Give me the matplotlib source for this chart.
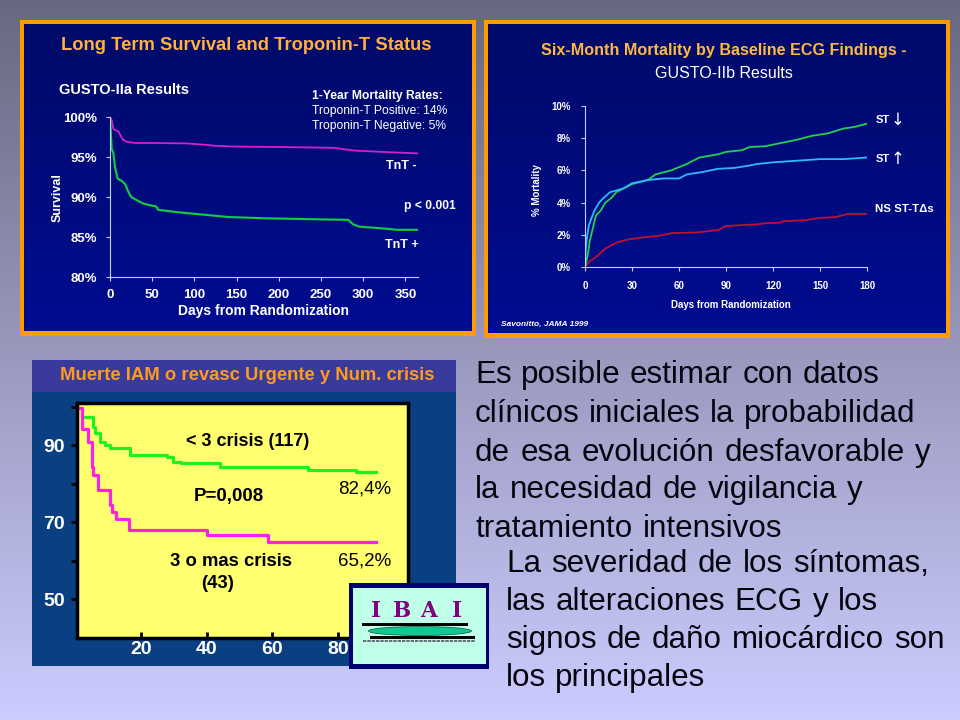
import matplotlib
matplotlib.use('Agg')
import matplotlib.pyplot as plt
from matplotlib.patches import Rectangle, Ellipse
import numpy as np

plt.rcParams['font.family'] = ['Liberation Sans', 'DejaVu Sans']

# panel 1: survival by troponin
tn_neg_x = [0, 2, 4, 10, 12, 15, 20, 30, 50, 90, 110, 125, 150, 200, 265, 275, 290, 320, 365]
tn_neg_y = [100, 99.6, 98.5, 98.2, 97.8, 97.2, 96.9, 96.75, 96.75, 96.7, 96.55, 96.4, 96.3, 96.25, 96.15, 96.0, 95.8, 95.65, 95.45]
tn_pos_x = [0, 1, 2, 4, 6, 9, 14, 18, 22, 25, 30, 40, 55, 57, 80, 110, 140, 180, 250, 282, 288, 295, 320, 340, 365]
tn_pos_y = [100, 98, 96, 95.5, 93.7, 92.3, 92, 91.6, 90.6, 90, 89.7, 89.15, 88.8, 88.4, 88.1, 87.8, 87.5, 87.35, 87.2, 87.15, 86.6, 86.3, 86.1, 85.9, 85.9]
p1_xticks = [0, 50, 100, 150, 200, 250, 300, 350]
p1_yticks = [80, 85, 90, 95, 100]

# panel 2: mortality by ECG
st_down_x = [0, 1, 2, 3, 5, 7, 10, 13, 17, 20, 25, 30, 40, 45, 55, 65, 73, 85, 90, 100, 105, 115, 125, 135, 145, 155, 165, 172, 180]
st_down_y = [0, .4, .9, 1.6, 2.4, 3.2, 3.5, 4.0, 4.3, 4.65, 4.9, 5.15, 5.4, 5.75, 6.0, 6.4, 6.8, 7.0, 7.15, 7.25, 7.45, 7.5, 7.7, 7.9, 8.15, 8.3, 8.6, 8.7, 8.9]
st_up_x = [0, .5, 1.5, 2.5, 4, 6, 9, 12, 16, 20, 25, 30, 40, 50, 60, 65, 75, 85, 95, 105, 110, 120, 135, 150, 165, 180]
st_up_y = [0, 1.2, 2.0, 2.6, 3.0, 3.5, 4.0, 4.3, 4.65, 4.75, 4.9, 5.2, 5.4, 5.5, 5.5, 5.75, 5.9, 6.1, 6.15, 6.3, 6.4, 6.5, 6.6, 6.7, 6.7, 6.8]
ns_x = [0, 3, 8, 13, 17, 21, 28, 38, 48, 55, 72, 85, 90, 100, 110, 115, 124, 127, 140, 150, 160, 168, 180]
ns_y = [0, .35, .7, 1.15, 1.35, 1.55, 1.72, 1.85, 1.95, 2.1, 2.15, 2.3, 2.55, 2.6, 2.65, 2.72, 2.75, 2.85, 2.9, 3.05, 3.1, 3.3, 3.3]
p2_xticks = [0, 30, 60, 90, 120, 150, 180]
p2_yticks = [0, 2, 4, 6, 8, 10]

# panel 3: crisis count, step curves
low_x = [1, 1.8, 5.2, 5.8, 7.3, 9, 10.4, 16.5, 27.8, 29.5, 32, 44, 71, 85.5, 91.6]
low_y = [99.6, 97.3, 94.7, 93.2, 90.8, 90, 89.2, 87.6, 86.9, 85.8, 85.3, 84.3, 83.6, 83, 83]
high_x = [1, 1.8, 3.8, 4.8, 5.3, 6.7, 10.4, 11, 12.2, 16.2, 40, 58.5, 91.6]
high_y = [99.6, 94.2, 90.8, 84.5, 82.2, 78.5, 74.6, 72.8, 71, 68, 66.8, 64.8, 64.8]
p3_xticks = [20, 40, 60, 80]
p3_yticks = [50, 70, 90]
p3_minor = [60, 80, 100]

text_main = ['Es posible estimar con datos', 'clínicos iniciales la probabilidad',
             'de esa evolución desfavorable y', 'la necesidad de vigilancia y',
             'tratamiento intensivos']
main_ends = [879, 915, 931, 863, 782]
main_base = [383.3, 422.3, 460.7, 498.3, 537.3]
text_sub = ['La severidad de los síntomas,', 'las alteraciones ECG y los',
            'signos de daño miocárdico son', 'los principales']
sub_ends = [929, 878, 945, 705]
sub_base = [571.7, 610, 648.3, 686]

W, H = 960, 720
fig = plt.figure(figsize=(9.6, 7.2), dpi=100)


def px_axes(x0, y0, x1, y1, z=1):
    # axes placed by pixel box, y counted from the top
    return fig.add_axes([x0 / W, 1 - y1 / H, (x1 - x0) / W, (y1 - y0) / H], zorder=z)


def gradient(box, top, bottom, z=1):
    ax = px_axes(*box, z=z)
    t = np.linspace(0, 1, 256)[:, None, None]
    img = (1 - t) * np.array(top)[None, None, :] + t * np.array(bottom)[None, None, :]
    ax.imshow(img / 255, aspect='auto', interpolation='bilinear')
    ax.axis('off')


# slide and overlay in pixel coordinates
gradient((0, 0, W, H), (104, 104, 128), (204, 204, 255), z=0)
bg = px_axes(0, 0, W, H, z=1)
bg.set_xlim(0, W)
bg.set_ylim(H, 0)
bg.axis('off')
bg.patch.set_alpha(0)
bg.add_patch(Rectangle((20, 20), 456, 316, fc='#ff9a00', ec='none'))
bg.add_patch(Rectangle((484, 20), 466, 318, fc='#ff9a00', ec='none'))
bg.add_patch(Rectangle((32, 360), 424, 306, fc='#0a4082', ec='none'))
bg.add_patch(Rectangle((32, 360), 424, 32, fc='#3a3a9c', ec='none'))
gradient((24, 24, 472, 331), (0, 10, 105), (0, 12, 145), z=2)
gradient((488, 24, 946, 333), (0, 10, 105), (0, 12, 145), z=2)

over = px_axes(0, 0, W, H, z=5)
over.set_xlim(0, W)
over.set_ylim(H, 0)
over.axis('off')
over.patch.set_alpha(0)


def label(x, y, s, size, color='white', weight='bold', ha='left', **kw):
    return over.text(x, y, s, fontsize=size, color=color, fontweight=weight, ha=ha, va='center', **kw)


def spread_line(x0, x1, y, line, size):
    # the slide text has uneven word gaps, so place word by word on one baseline
    rend = fig.canvas.get_renderer()
    words = line.split(' ')
    items = [over.text(x0, y, w, fontsize=size, color='#050510', ha='left', va='baseline') for w in words]
    widths = [t.get_window_extent(rend).width for t in items]
    gap = (x1 - x0 - sum(widths)) / max(len(words) - 1, 1)
    x = x0
    for t, w in zip(items, widths):
        t.set_x(x)
        x += w + gap


# panel 1
ax1 = px_axes(110, 117, 418, 277, z=3)
ax1.plot(tn_neg_x, tn_neg_y, color='#d020d0', lw=1.3)
ax1.plot(tn_pos_x, tn_pos_y, color='#10d040', lw=1.5)
ax1.set_xlim(0, 365)
ax1.set_ylim(80, 100)
ax1.set_xticks(p1_xticks)
ax1.set_yticks(p1_yticks)
ax1.set_yticklabels([f'{v}%' for v in p1_yticks])
ax1.set_xlabel('Days from Randomization', color='white', fontsize=10, fontweight='bold', labelpad=2)
label(58, 198, 'Survival', 9, ha='center', rotation=90)

# panel 2
ax2 = px_axes(585, 106, 867, 267, z=3)
ax2.plot(ns_x, ns_y, color='#c01030', lw=1.3)
ax2.plot(st_down_x, st_down_y, color='#20d050', lw=1.3)
ax2.plot(st_up_x, st_up_y, color='#30b8ff', lw=1.3)
ax2.set_xlim(0, 180)
ax2.set_ylim(0, 10)
ax2.set_xticks(p2_xticks)
ax2.set_yticks(p2_yticks)
ax2.set_yticklabels([f'{v}%' for v in p2_yticks])
label(731, 305, 'Days from Randomization', 7, ha='center')
label(537, 190, '% Mortality', 7, ha='center', rotation=90)

for ax, size, pad in ((ax1, 9.5, 6), (ax2, 7, 7)):
    ax.patch.set_alpha(0)
    for side in ('top', 'right'):
        ax.spines[side].set_visible(False)
    for side in ('left', 'bottom'):
        ax.spines[side].set_color('#c8d0e8')
    ax.tick_params(colors='white', labelsize=size, length=3, width=0.8, pad=pad, direction='out', color='#c8d0e8')
    for t in ax.get_xticklabels() + ax.get_yticklabels():
        t.set_fontweight('bold')

# panel 3
ax3 = px_axes(77, 403, 408, 638, z=3)
ax3.set_facecolor('#ffff70')
ax3.step(low_x, low_y, where='post', color='#20f020', lw=2.3)
ax3.step(high_x, high_y, where='post', color='#ff20e8', lw=2.3)
ax3.set_xlim(0.3, 101.4)
ax3.set_ylim(40, 101)
ax3.set_xticks(p3_xticks)
ax3.set_yticks(p3_yticks)
ax3.set_yticks(p3_minor, minor=True)
ax3.tick_params(axis='y', which='major', colors='white', labelsize=14, length=4, width=2, color='black', pad=5)
ax3.tick_params(axis='x', which='major', colors='white', labelsize=14, length=4, width=2, color='black', pad=2, direction='in')
ax3.tick_params(axis='y', which='minor', length=4, width=2, color='black')
for t in ax3.get_xticklabels() + ax3.get_yticklabels():
    t.set_fontweight('bold')
for sp in ax3.spines.values():
    sp.set_linewidth(2.5)
    sp.set_color('black')

# headings and labels
label(61, 46, 'Long Term Survival and Troponin-T Status', 13.2, color='#ffb040')
label(59, 90, 'GUSTO-IIa Results', 10.5)
label(312, 96, '1-Year Mortality Rates:', 8.7)
label(312, 111, 'Troponin-T Positive: 14%', 8.7, weight='normal')
label(312, 126, 'Troponin-T Negative: 5%', 8.7, weight='normal')
label(386, 166, 'TnT -', 9)
label(404, 206, 'p < 0.001', 8.7)
label(385, 245, 'TnT +', 9)

label(541, 50, 'Six-Month Mortality by Baseline ECG Findings -', 11.6, color='#ffb840')
label(724, 73, 'GUSTO-IIb Results', 11.5, weight='normal', ha='center')
label(876, 120, 'ST', 8)
label(876, 159, 'ST', 8)
over.text(898, 120, '↓', fontsize=12, color='white', ha='center', va='center', family='DejaVu Sans')
over.text(898, 159, '↑', fontsize=12, color='white', ha='center', va='center', family='DejaVu Sans')
label(875, 209, 'NS ST-TΔs', 8.2)
label(501, 324, 'Savonitto, JAMA 1999', 6, style='italic')

label(247, 376, 'Muerte IAM o revasc Urgente y Num. crisis', 13.3, color='#ff9a20', ha='center')
label(186, 441, '< 3 crisis (117)', 13, color='black')
label(194, 497, 'P=0,008', 13.5, color='black')
label(338, 489, '82,4%', 13.5, color='black', weight='normal')
label(170, 561, '3 o mas crisis', 13.3, color='black')
label(201, 584, '(43)', 13.3, color='black')
label(338, 561, '65,2%', 13.5, color='black', weight='normal')

for line, end, base in zip(text_main, main_ends, main_base):
    spread_line(475, end, base, line, 22.6)
for line, end, base in zip(text_sub, sub_ends, sub_base):
    spread_line(506, end, base, line, 22.6)

# logo
over.add_patch(Rectangle((349, 583), 140, 86, fc='#000070', ec='none'))
over.add_patch(Rectangle((353, 588), 133, 76, fc='#c0ffe8', ec='none'))
for x, ch in zip((376, 402, 429, 457), 'IBAI'):
    over.text(x, 611, ch, fontsize=15.5, color='#800080', fontweight='bold', ha='center', va='center', family='DejaVu Serif')
over.add_patch(Rectangle((362, 623), 106, 2.5, fc='black', ec='none'))
over.add_patch(Ellipse((420, 631), 103, 9, fc='#10c890', ec='#105040', lw=0.5))
over.add_patch(Rectangle((370, 636), 105, 2.5, fc='black', ec='none'))
over.plot([363, 475], [640.5, 640.5], color='#555566', lw=1.2, ls=(0, (2, 0.6)))

fig.savefig('out.png', dpi=100)
